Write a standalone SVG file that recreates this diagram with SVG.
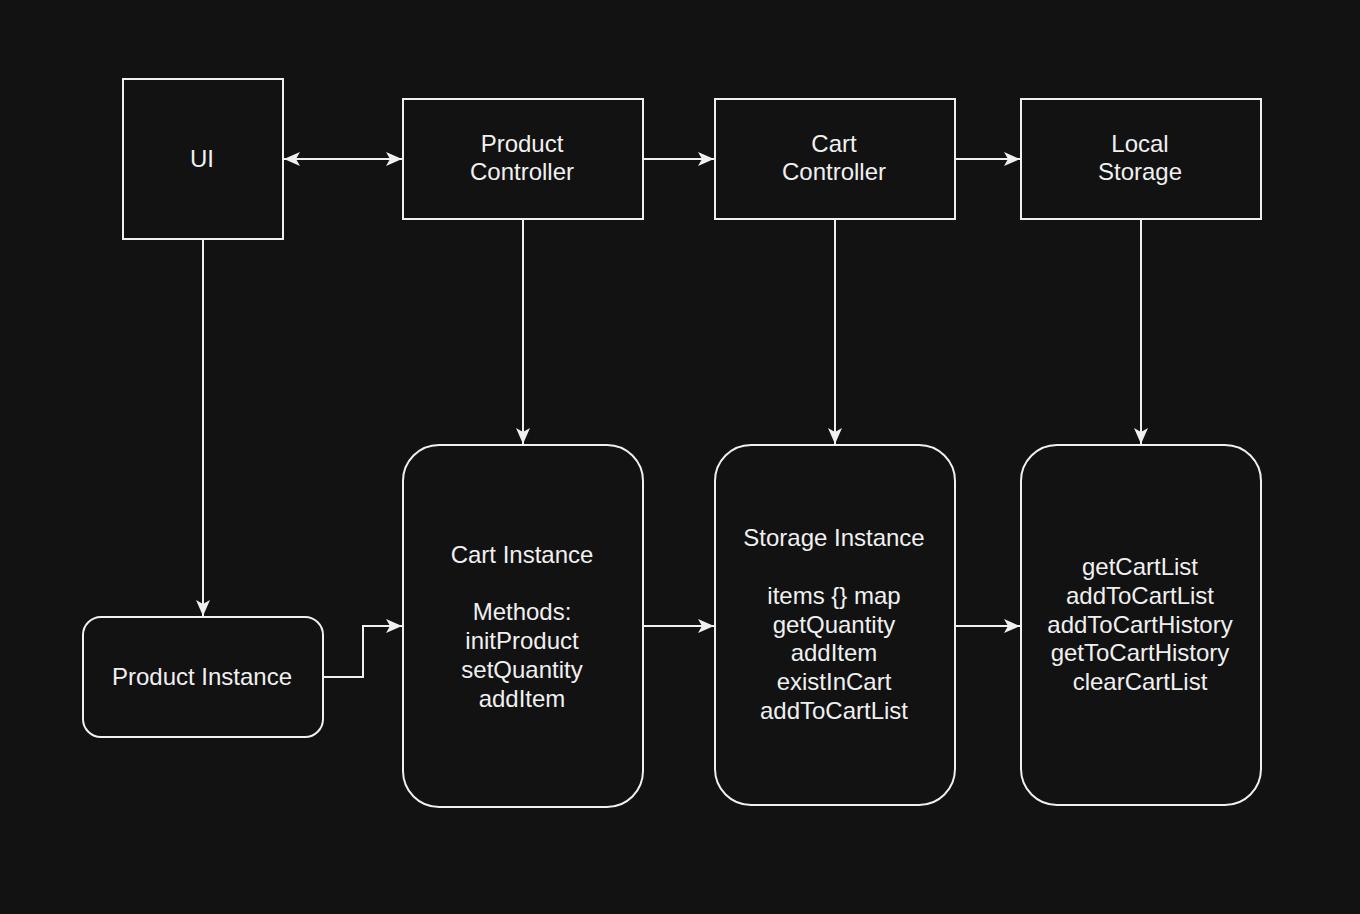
<svg xmlns="http://www.w3.org/2000/svg" width="1360" height="914" viewBox="0 0 1360 914">
<style>
.n{fill:#121212;stroke:#F0F0F0;stroke-width:2}
.t{fill:#F0F0F0;font-family:"Liberation Sans",Arial,sans-serif;font-size:24px;text-anchor:middle}
.c{fill:none;stroke:#F0F0F0;stroke-width:2}
</style>
<defs>
<marker id="a" viewBox="0 0 16 14" refX="16" refY="7" markerWidth="16" markerHeight="14" markerUnits="userSpaceOnUse" orient="auto-start-reverse">
<path d="M0,0 L16,7 L0,14 L4,7 Z" fill="#F0F0F0"/>
</marker>
</defs>
<rect width="1360" height="914" fill="#121212"/>
<g id="connectors">
<path class="c" d="M284,159 H402" marker-start="url(#a)" marker-end="url(#a)"/>
<path class="c" d="M643,159 H714" marker-end="url(#a)"/>
<path class="c" d="M955,159 H1020" marker-end="url(#a)"/>
<path class="c" d="M203,239 V616" marker-end="url(#a)"/>
<path class="c" d="M523,219 V444" marker-end="url(#a)"/>
<path class="c" d="M835,219 V444" marker-end="url(#a)"/>
<path class="c" d="M1141,219 V444" marker-end="url(#a)"/>
<path class="c" d="M323,677 H363 V626 H402" marker-end="url(#a)"/>
<path class="c" d="M643,626 H714" marker-end="url(#a)"/>
<path class="c" d="M955,626 H1020" marker-end="url(#a)"/>
</g>
<g id="ui">
<rect class="n" x="123" y="79" width="160" height="160"/>
<text class="t" x="202" y="166.5">UI</text>
</g>
<g id="product-controller">
<rect class="n" x="403" y="99" width="240" height="120"/>
<text class="t" x="522" y="151.5">Product</text>
<text class="t" x="522" y="180">Controller</text>
</g>
<g id="cart-controller">
<rect class="n" x="715" y="99" width="240" height="120"/>
<text class="t" x="834" y="151.5">Cart</text>
<text class="t" x="834" y="180">Controller</text>
</g>
<g id="local-storage">
<rect class="n" x="1021" y="99" width="240" height="120"/>
<text class="t" x="1140" y="151.5">Local</text>
<text class="t" x="1140" y="180">Storage</text>
</g>
<g id="product-instance">
<rect class="n" x="83" y="617" width="240" height="120" rx="18" ry="18"/>
<text class="t" x="202" y="684.5">Product Instance</text>
</g>
<g id="cart-instance">
<rect class="n" x="403" y="445" width="240" height="362" rx="36" ry="36"/>
<text class="t" x="522" y="562.5">Cart Instance</text>
<text class="t" x="522" y="619.5">Methods:</text>
<text class="t" x="522" y="648.5">initProduct</text>
<text class="t" x="522" y="677.5">setQuantity</text>
<text class="t" x="522" y="706.5">addItem</text>
</g>
<g id="storage-instance">
<rect class="n" x="715" y="445" width="240" height="360" rx="36" ry="36"/>
<text class="t" x="834" y="545.5">Storage Instance</text>
<text class="t" x="834" y="603.5">items {} map</text>
<text class="t" x="834" y="632.5">getQuantity</text>
<text class="t" x="834" y="660.5">addItem</text>
<text class="t" x="834" y="689.5">existInCart</text>
<text class="t" x="834" y="718.5">addToCartList</text>
</g>
<g id="local-storage-methods">
<rect class="n" x="1021" y="445" width="240" height="360" rx="36" ry="36"/>
<text class="t" x="1140" y="574.5">getCartList</text>
<text class="t" x="1140" y="603.5">addToCartList</text>
<text class="t" x="1140" y="632.5">addToCartHistory</text>
<text class="t" x="1140" y="660.5">getToCartHistory</text>
<text class="t" x="1140" y="689.5">clearCartList</text>
</g>
</svg>
